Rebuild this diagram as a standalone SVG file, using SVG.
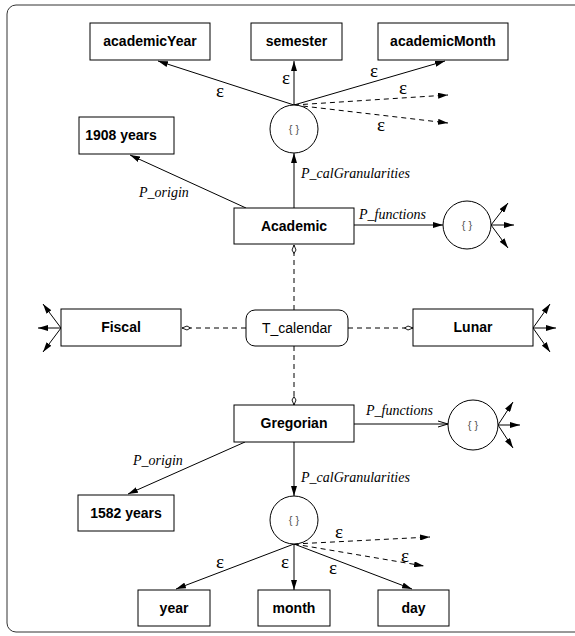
<svg xmlns="http://www.w3.org/2000/svg" width="575" height="636" viewBox="0 0 575 636">
<style>
.box{fill:#fff;stroke:#000;stroke-width:1}
.bt{font-family:"Liberation Sans",Arial,sans-serif;font-weight:bold;font-size:14px;text-anchor:middle;fill:#000}
.nt{font-family:"Liberation Sans",Arial,sans-serif;font-size:14px;text-anchor:middle;fill:#000}
.br{font-family:"Liberation Sans",Arial,sans-serif;font-size:11px;text-anchor:middle;fill:#555}
.lb{font-family:"Liberation Serif","Times New Roman",serif;font-style:italic;font-size:14px;fill:#000}
.ep{font-family:"Liberation Serif","Times New Roman",serif;font-size:19px;text-anchor:middle;fill:#000}
.ln{fill:none;stroke:#000;stroke-width:1}
.ds{fill:none;stroke:#000;stroke-width:1;stroke-dasharray:5 4}
.ar{marker-end:url(#ah)}
</style>
<defs>
<marker id="ah" viewBox="0 0 10 6" refX="10" refY="3" markerWidth="10" markerHeight="6" orient="auto" markerUnits="userSpaceOnUse"><path d="M0,0 L10,3 L0,6 Z" fill="#000"/></marker>
<marker id="oa" viewBox="0 0 10 8" refX="10" refY="4" markerWidth="10" markerHeight="8" orient="auto" markerUnits="userSpaceOnUse"><path d="M0,1 L10,4 L0,7" fill="none" stroke="#000" stroke-width="1"/></marker>
<marker id="gen" viewBox="0 0 10 6" refX="9.5" refY="3" markerWidth="10" markerHeight="6" orient="auto" markerUnits="userSpaceOnUse"><path d="M1,3 L4.5,1 L9.5,3 L4.5,5 Z" fill="#fff" stroke="#000" stroke-width="0.9"/></marker>
</defs>
<rect x="7" y="5" width="600" height="627" rx="9" fill="#fff" stroke="#333" stroke-width="1"/>

<g id="connectors">
<line class="ln ar" x1="294" y1="105" x2="158" y2="61"/>
<line class="ln ar" x1="294" y1="105" x2="294" y2="61"/>
<line class="ln ar" x1="294" y1="105" x2="445" y2="61"/>
<line class="ds ar" x1="294" y1="105" x2="448" y2="95"/>
<line class="ds ar" x1="294" y1="105" x2="448" y2="123"/>
<line class="ln ar" x1="246" y1="208" x2="130" y2="155"/>
<line class="ln ar" x1="294" y1="208" x2="294" y2="153"/>
<line class="ln ar" x1="354" y1="225" x2="443" y2="225"/>
<line class="ln ar" x1="491" y1="225" x2="508" y2="203"/>
<line class="ln ar" x1="491" y1="225" x2="514" y2="225"/>
<line class="ln ar" x1="491" y1="225" x2="508" y2="248"/>
<line class="ds" x1="294" y1="310" x2="294" y2="245" marker-end="url(#gen)"/>
<line class="ds" x1="246" y1="328" x2="182" y2="328" marker-end="url(#gen)"/>
<line class="ds" x1="348" y1="328" x2="413" y2="328" marker-end="url(#gen)"/>
<line class="ds" x1="294" y1="346" x2="294" y2="405" marker-end="url(#gen)"/>
<line class="ln ar" x1="61" y1="328" x2="43" y2="304"/>
<line class="ln ar" x1="61" y1="328" x2="38" y2="328"/>
<line class="ln ar" x1="61" y1="328" x2="43" y2="352"/>
<line class="ln ar" x1="533" y1="328" x2="550" y2="304"/>
<line class="ln ar" x1="533" y1="328" x2="556" y2="328"/>
<line class="ln ar" x1="533" y1="328" x2="550" y2="352"/>
<line class="ln" x1="354" y1="424" x2="448" y2="424" marker-end="url(#oa)"/>
<line class="ln ar" x1="498" y1="425" x2="513" y2="402"/>
<line class="ln ar" x1="498" y1="425" x2="520" y2="425"/>
<line class="ln ar" x1="498" y1="425" x2="513" y2="448"/>
<line class="ln ar" x1="245" y1="442" x2="128" y2="494"/>
<line class="ln ar" x1="294" y1="442" x2="294" y2="496"/>
<line class="ln ar" x1="294" y1="544" x2="176" y2="589"/>
<line class="ln ar" x1="294" y1="544" x2="294" y2="590"/>
<line class="ln ar" x1="294" y1="544" x2="412" y2="589"/>
<line class="ds ar" x1="294" y1="544" x2="430" y2="537"/>
<line class="ds ar" x1="294" y1="544" x2="424" y2="566"/>
</g>

<g id="labels">
<text class="ep" x="220" y="97">ε</text>
<text class="ep" x="286" y="84">ε</text>
<text class="ep" x="374" y="77">ε</text>
<text class="ep" x="403" y="94">ε</text>
<text class="ep" x="381" y="131">ε</text>
<text class="lb" x="139" y="197">P_origin</text>
<text class="lb" x="301" y="178">P_calGranularities</text>
<text class="lb" x="359" y="219">P_functions</text>
<text class="lb" x="366" y="415">P_functions</text>
<text class="lb" x="133" y="465">P_origin</text>
<text class="lb" x="301" y="482">P_calGranularities</text>
<text class="ep" x="339" y="538">ε</text>
<text class="ep" x="405" y="562">ε</text>
<text class="ep" x="220" y="568">ε</text>
<text class="ep" x="285" y="568">ε</text>
<text class="ep" x="333" y="574">ε</text>
</g>

<g id="academicYear"><rect class="box" x="90" y="23" width="120" height="37"/><text class="bt" x="150" y="46">academicYear</text></g>
<g id="semester"><rect class="box" x="251" y="23" width="91" height="37"/><text class="bt" x="296.5" y="46">semester</text></g>
<g id="academicMonth"><rect class="box" x="378" y="23" width="130" height="37"/><text class="bt" x="443" y="46">academicMonth</text></g>
<g id="setTop"><circle cx="294" cy="129" r="24" fill="#fff" stroke="#000"/><text class="br" x="294" y="133">{ }</text></g>
<g id="years1908"><rect class="box" x="79" y="117" width="95" height="37"/><text class="bt" x="121" y="140">1908 years</text></g>
<g id="Academic"><rect class="box" x="234" y="208" width="120" height="36"/><text class="bt" x="294" y="231">Academic</text></g>
<g id="setAcademicFn"><circle cx="467" cy="225" r="24" fill="#fff" stroke="#000"/><text class="br" x="467" y="229">{ }</text></g>
<g id="Fiscal"><rect class="box" x="61" y="309" width="120" height="37"/><text class="bt" x="121" y="332">Fiscal</text></g>
<g id="T_calendar"><rect class="box" x="246" y="310" width="102" height="36" rx="9"/><text class="nt" x="297" y="333">T_calendar</text></g>
<g id="Lunar"><rect class="box" x="413" y="309" width="120" height="37"/><text class="bt" x="473" y="332">Lunar</text></g>
<g id="Gregorian"><rect class="box" x="234" y="405" width="120" height="37"/><text class="bt" x="294" y="428">Gregorian</text></g>
<g id="setGregorianFn"><circle cx="473" cy="425" r="25" fill="#fff" stroke="#000"/><text class="br" x="473" y="429">{ }</text></g>
<g id="years1582"><rect class="box" x="78" y="495" width="96" height="36"/><text class="bt" x="126" y="518">1582 years</text></g>
<g id="setBottom"><circle cx="294" cy="520" r="24" fill="#fff" stroke="#000"/><text class="br" x="294" y="524">{ }</text></g>
<g id="year"><rect class="box" x="138" y="590" width="72" height="36"/><text class="bt" x="174" y="613">year</text></g>
<g id="month"><rect class="box" x="258" y="590" width="72" height="36"/><text class="bt" x="294" y="613">month</text></g>
<g id="day"><rect class="box" x="378" y="590" width="71" height="36"/><text class="bt" x="413.5" y="613">day</text></g>
</svg>
